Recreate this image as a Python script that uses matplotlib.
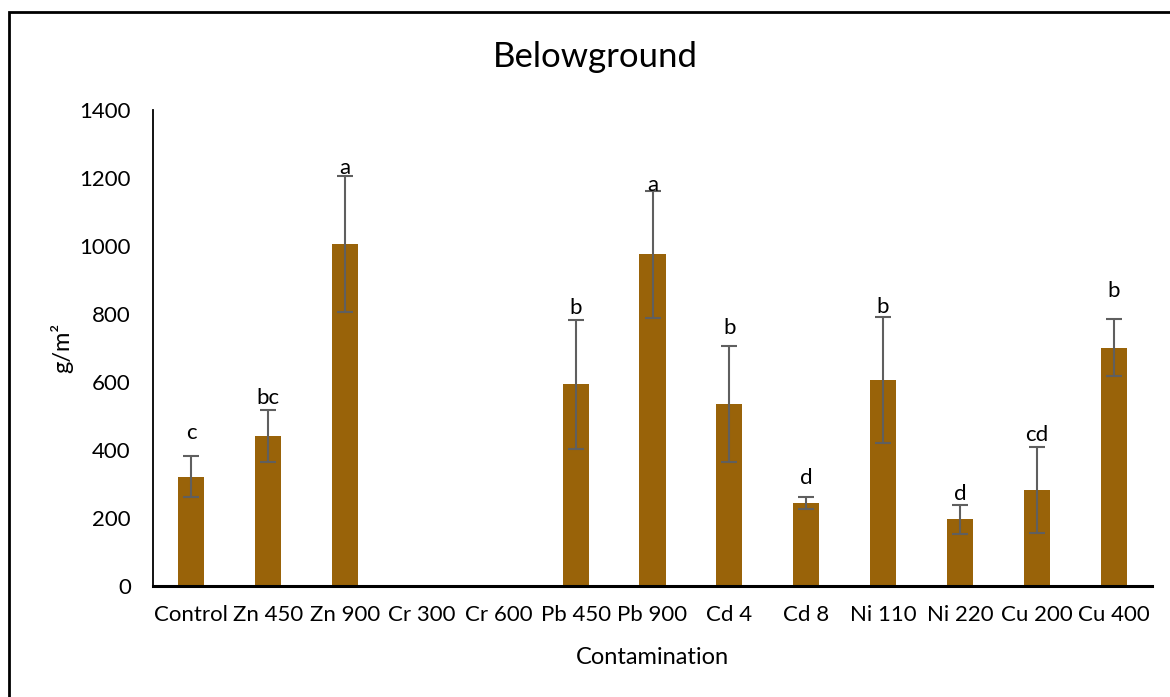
import numpy as np
import matplotlib.pyplot as plt
from matplotlib.patches import Rectangle

plt.rcParams['font.family'] = ['Lato', 'DejaVu Sans']

# treatments and belowground biomass (g/m2)
treatments = ["Control", "Zn 450", "Zn 900", "Cr 300", "Cr 600", "Pb 450", "Pb 900",
              "Cd 4", "Cd 8", "Ni 110", "Ni 220", "Cu 200", "Cu 400"]
means = [321, 441, 1006, 2, 2, 593, 975, 535, 245, 606, 196, 282, 701]
errors = [60, 76, 200, 0, 0, 190, 186, 170, 18, 185, 43, 126, 83]
letters = ["c", "bc", "a", "", "", "b", "a", "b", "d", "b", "d", "cd", "b"]
letter_y = [450, 553, 1229, 0, 0, 818, 1179, 759, 318, 821, 271, 444, 868]

fig = plt.figure(figsize=(11.7, 6.97), dpi=100)
ax = fig.add_axes([153 / 1170, 111 / 697, 999 / 1170, 476 / 697])

x = np.arange(len(treatments))
ax.bar(x, means, width=0.34, color="#996309", zorder=2)

# error bars only where there is a spread
has_err = [i for i in range(len(errors)) if errors[i] > 0]
ax.errorbar(x[has_err], [means[i] for i in has_err], yerr=[errors[i] for i in has_err],
            fmt="none", ecolor="#5f5f5f", elinewidth=1.5, capsize=6, capthick=1.5, zorder=3)

# significance letters
for i in range(len(treatments)):
    if letters[i]:
        ax.text(x[i], letter_y[i], letters[i], ha="center", va="center", fontsize=16, zorder=4)

ax.set_xlim(-0.5, len(treatments) - 0.5)
ax.set_ylim(0, 1400)
ax.set_yticks(np.arange(0, 1401, 200))
ax.set_xticks(x)
ax.set_xticklabels(treatments)
ax.tick_params(axis="both", length=0, labelsize=16)
ax.tick_params(axis="x", pad=14)
ax.tick_params(axis="y", pad=16)
for s in ["top", "right"]:
    ax.spines[s].set_visible(False)
ax.spines["left"].set_linewidth(1.3)
ax.spines["bottom"].set_linewidth(2.2)

ax.set_xlabel("Contamination", fontsize=17, va="center")
ax.set_ylabel("g/m²", fontsize=17, va="center")
ax.xaxis.set_label_coords(0.5, -(657 - 586) / 476)
ax.yaxis.set_label_coords(-(153 - 62) / 999, 0.5)

fig.text(595 / 1170, 1 - 57 / 697, "Belowground", ha="center", va="center", fontsize=25)

# outer chart border
fig.add_artist(Rectangle((8.5 / 1170, -0.1), 1.2, 1.1 - 12.5 / 697, transform=fig.transFigure,
                         fill=False, edgecolor="black", linewidth=2))

fig.savefig("out.png", dpi=100)
